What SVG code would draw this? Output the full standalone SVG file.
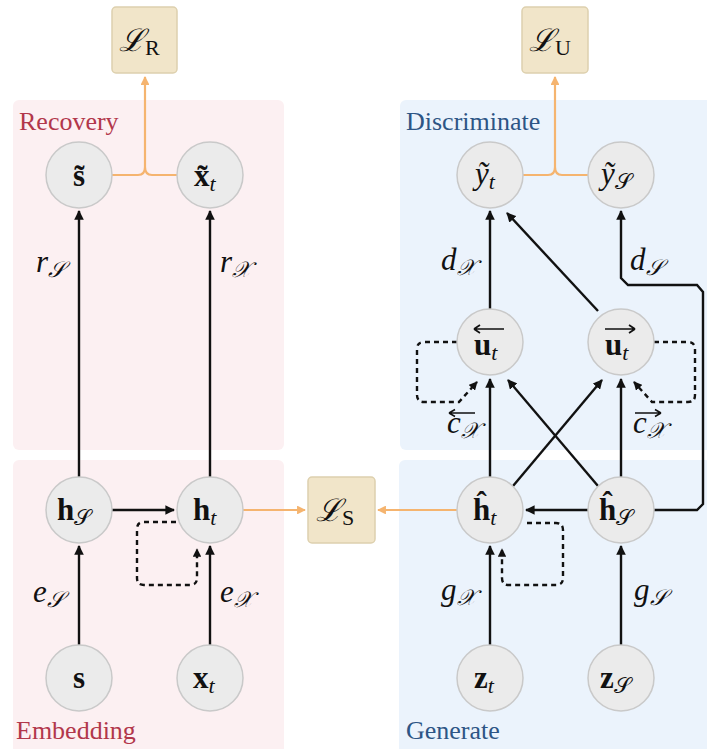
<svg xmlns="http://www.w3.org/2000/svg" width="707" height="749" viewBox="0 0 707 749">
  <style>
    .panel-pink { fill: #fcf0f2; }
    .panel-blue { fill: #ebf3fc; }
    .node circle { fill: #ebebeb; stroke: #c9c9c9; stroke-width: 1.5; }
    .loss rect { fill: #f1e5c9; stroke: #ddd0ae; stroke-width: 1.5; }
    .m { font-family: "Liberation Serif", "DejaVu Serif", serif; font-size: 31px; fill: #111; }
    .b { font-weight: bold; }
    .i { font-style: italic; }
    .sub { font-size: 22px; }
    .edge { fill: none; stroke: #111; stroke-width: 2.4; }
    .dash { fill: none; stroke: #111; stroke-width: 2.4; stroke-dasharray: 5 4; }
    .orange { fill: none; stroke: #f5b46f; stroke-width: 2.2; }
    .title { font-family: "Liberation Serif", "DejaVu Serif", serif; font-size: 26px; }
  </style>
  <defs>
    <marker id="ah" viewBox="0 0 10 10" refX="9" refY="5" markerWidth="4" markerHeight="4" orient="auto" markerUnits="strokeWidth">
      <path d="M0,0 L10,5 L0,10 Z" fill="#111"/>
    </marker>
    <marker id="ahd" viewBox="0 0 10 10" refX="9" refY="5" markerWidth="3.6" markerHeight="3.6" orient="auto" markerUnits="strokeWidth">
      <path d="M0,0 L10,5 L0,10 Z" fill="#111"/>
    </marker>
    <marker id="aho" viewBox="0 0 10 10" refX="9" refY="5" markerWidth="4" markerHeight="4" orient="auto" markerUnits="strokeWidth">
      <path d="M0,0 L10,5 L0,10 Z" fill="#f5b46f"/>
    </marker>
  </defs>

  <!-- background panels -->
  <g id="panels">
    <rect class="panel-pink" x="13" y="100" width="271" height="350" rx="6"/>
    <rect class="panel-pink" x="13" y="460" width="271" height="295" rx="6"/>
    <rect class="panel-blue" x="400" y="100" width="312" height="350" rx="6"/>
    <rect class="panel-blue" x="399" y="460" width="312" height="295" rx="6"/>
    <text class="title" x="19" y="130" fill="#b2374b">Recovery</text>
    <text class="title" x="406" y="130" fill="#2d5585">Discriminate</text>
    <text class="title" x="16" y="739" fill="#b2374b">Embedding</text>
    <text class="title" x="406" y="739" fill="#2d5585">Generate</text>
  </g>

  <!-- connectors -->
  <g id="connectors">
    <!-- orange loss links -->
    <path class="orange" d="M112,175 H138 Q145,175 145,167 M177,175 H152 Q145,175 145,167 V77" marker-end="url(#aho)"/>
    <path class="orange" d="M523,175 H548 Q555,175 555,167 M588,175 H562 Q555,175 555,167 V77" marker-end="url(#aho)"/>
    <path class="orange" d="M243,510 H305" marker-end="url(#aho)"/>
    <path class="orange" d="M457,510 H378" marker-end="url(#aho)"/>

    <!-- embedding -->
    <path class="edge" d="M79,645 V546" marker-end="url(#ah)"/>
    <path class="edge" d="M210,645 V546" marker-end="url(#ah)"/>
    <path class="edge" d="M112,510 H174" marker-end="url(#ah)"/>
    <path class="dash" d="M176,522 H144 Q137,522 137,529 V578 Q137,585 144,585 H190 Q197,585 197,578 V549" marker-end="url(#ahd)"/>

    <!-- recovery -->
    <path class="edge" d="M79,477 V211" marker-end="url(#ah)"/>
    <path class="edge" d="M210,477 V211" marker-end="url(#ah)"/>

    <!-- generate -->
    <path class="edge" d="M490,645 V546" marker-end="url(#ah)"/>
    <path class="edge" d="M621,645 V546" marker-end="url(#ah)"/>
    <path class="edge" d="M588,510 H526" marker-end="url(#ah)"/>
    <path class="dash" d="M527,523 H556 Q563,523 563,530 V578 Q563,585 556,585 H509 Q502,585 502,578 V549" marker-end="url(#ahd)"/>

    <!-- generate to discriminate -->
    <path class="edge" d="M490,477 V379" marker-end="url(#ah)"/>
    <path class="edge" d="M621,477 V379" marker-end="url(#ah)"/>
    <path class="edge" d="M513,486 L602,380" marker-end="url(#ah)"/>
    <path class="edge" d="M598,486 L508,380" marker-end="url(#ah)"/>
    <path class="edge" d="M653,510 H697 L703,504 V292 L697,285 H628 L621,278 V211" marker-end="url(#ah)"/>

    <!-- bidirectional recurrence loops -->
    <path class="dash" d="M457,342 H424 Q417,342 417,349 V395 Q417,402 424,402 H459 L477,382" marker-end="url(#ahd)"/>
    <path class="dash" d="M654,342 H688 Q695,342 695,349 V395 Q695,402 688,402 H652 L634,382" marker-end="url(#ahd)"/>

    <!-- discriminate outputs -->
    <path class="edge" d="M490,309 V211" marker-end="url(#ah)"/>
    <path class="edge" d="M598,311 L507,213" marker-end="url(#ah)"/>
  </g>

  <!-- edge labels -->
  <g id="edge-labels" class="m i">
    <text x="36" y="272">r<tspan class="sub" dy="5">𝒮</tspan></text>
    <text x="220" y="272">r<tspan class="sub" dy="5">𝒳</tspan></text>
    <text x="33" y="602">e<tspan class="sub" dy="5">𝒮</tspan></text>
    <text x="220" y="602">e<tspan class="sub" dy="5">𝒳</tspan></text>
    <text x="441" y="270">d<tspan class="sub" dy="5">𝒳</tspan></text>
    <text x="630" y="270">d<tspan class="sub" dy="5">𝒮</tspan></text>
    <text x="441" y="600">g<tspan class="sub" dy="5">𝒳</tspan></text>
    <text x="634" y="600">g<tspan class="sub" dy="5">𝒮</tspan></text>
    <text x="447" y="433">c<tspan class="sub" dy="5">𝒳</tspan></text>
    <text x="633" y="433">c<tspan class="sub" dy="5">𝒳</tspan></text>
  </g>
  <path d="M449,413 H475 M449,413 l6,-3.5 M449,413 l6,3.5" fill="none" stroke="#111" stroke-width="1.5"/>
  <path d="M635,413 H661 M661,413 l-6,-3.5 M661,413 l-6,3.5" fill="none" stroke="#111" stroke-width="1.5"/>

  <!-- loss boxes -->
  <g id="loss-R" class="loss">
    <rect x="112" y="7" width="65" height="66" rx="4"/>
    <text class="m i" x="119" y="51" font-size="36">ℒ<tspan class="sub" font-style="normal" dy="4">R</tspan></text>
  </g>
  <g id="loss-U" class="loss">
    <rect x="522" y="7" width="66" height="66" rx="4"/>
    <text class="m i" x="529" y="51" font-size="36">ℒ<tspan class="sub" font-style="normal" dy="4">U</tspan></text>
  </g>
  <g id="loss-S" class="loss">
    <rect x="308" y="477" width="67" height="66" rx="4"/>
    <text class="m i" x="316" y="521" font-size="36">ℒ<tspan class="sub" font-style="normal" dy="4">S</tspan></text>
  </g>

  <!-- recovery nodes -->
  <g id="node-s-tilde" class="node">
    <circle cx="79" cy="175" r="33"/>
    <text class="m b" x="79" y="186" text-anchor="middle">s̃</text>
  </g>
  <g id="node-x-tilde" class="node">
    <circle cx="210" cy="175" r="33"/>
    <text class="m b" x="194" y="186">x̃<tspan class="sub i" font-weight="normal" dy="5">t</tspan></text>
  </g>

  <!-- embedding nodes -->
  <g id="node-h-s" class="node">
    <circle cx="79" cy="510" r="33"/>
    <text class="m b" x="57" y="520">h<tspan class="sub" font-weight="normal" dy="5">𝒮</tspan></text>
  </g>
  <g id="node-h-t" class="node">
    <circle cx="210" cy="510" r="33"/>
    <text class="m b" x="193" y="520">h<tspan class="sub i" font-weight="normal" dy="5">t</tspan></text>
  </g>
  <g id="node-s" class="node">
    <circle cx="79" cy="678" r="33"/>
    <text class="m b" x="79" y="688" text-anchor="middle">s</text>
  </g>
  <g id="node-x-t" class="node">
    <circle cx="210" cy="678" r="33"/>
    <text class="m b" x="193" y="688">x<tspan class="sub i" font-weight="normal" dy="5">t</tspan></text>
  </g>

  <!-- discriminate nodes -->
  <g id="node-y-t" class="node">
    <circle cx="490" cy="175" r="33"/>
    <text class="m i" x="475" y="184">ỹ<tspan class="sub" dy="5">t</tspan></text>
  </g>
  <g id="node-y-s" class="node">
    <circle cx="621" cy="175" r="33"/>
    <text class="m i" x="601" y="184">ỹ<tspan class="sub" font-style="normal" dy="5">𝒮</tspan></text>
  </g>
  <g id="node-u-back" class="node">
    <circle cx="490" cy="342" r="33"/>
    <text class="m b" x="474" y="355">u<tspan class="sub i" font-weight="normal" dy="5">t</tspan></text>
    <path d="M474,329 H504 M474,329 l6,-4 M474,329 l6,4" fill="none" stroke="#111" stroke-width="1.7"/>
  </g>
  <g id="node-u-fwd" class="node">
    <circle cx="621" cy="342" r="33"/>
    <text class="m b" x="605" y="355">u<tspan class="sub i" font-weight="normal" dy="5">t</tspan></text>
    <path d="M605,329 H635 M635,329 l-6,-4 M635,329 l-6,4" fill="none" stroke="#111" stroke-width="1.7"/>
  </g>

  <!-- generate nodes -->
  <g id="node-h-hat-t" class="node">
    <circle cx="490" cy="510" r="33"/>
    <text class="m b" x="473" y="520">ĥ<tspan class="sub i" font-weight="normal" dy="5">t</tspan></text>
  </g>
  <g id="node-h-hat-s" class="node">
    <circle cx="621" cy="510" r="33"/>
    <text class="m b" x="599" y="520">ĥ<tspan class="sub" font-weight="normal" dy="5">𝒮</tspan></text>
  </g>
  <g id="node-z-t" class="node">
    <circle cx="490" cy="678" r="33"/>
    <text class="m b" x="474" y="688">z<tspan class="sub i" font-weight="normal" dy="5">t</tspan></text>
  </g>
  <g id="node-z-s" class="node">
    <circle cx="621" cy="678" r="33"/>
    <text class="m b" x="600" y="688">z<tspan class="sub" font-weight="normal" dy="5">𝒮</tspan></text>
  </g>
</svg>
